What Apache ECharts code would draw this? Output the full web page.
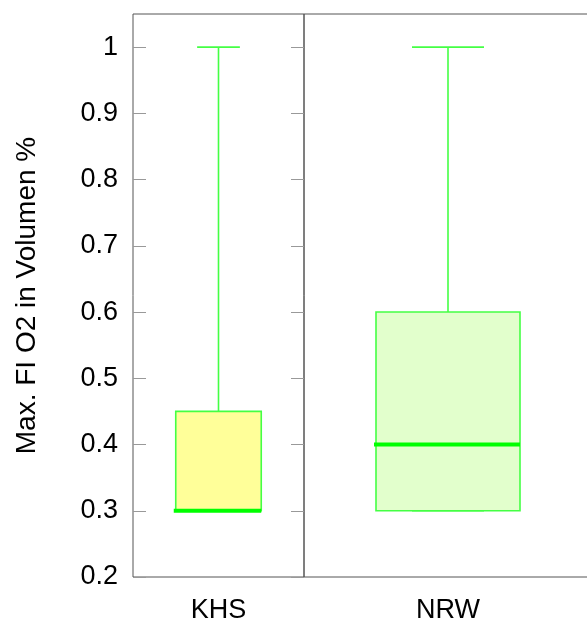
<!DOCTYPE html>
<html>
<head>
<meta charset="utf-8">
<script src="https://cdn.jsdelivr.net/npm/echarts@6/dist/echarts.min.js"></script>
<style>
html,body{margin:0;padding:0;background:#fff;}
#chart{width:587px;height:622px;}
</style>
</head>
<body>
<div id="chart"></div>
<script>
const categories = ['KHS', 'NRW'];
const whiskerLow = [0.3, 0.3];
const quartile1 = [0.3, 0.3];
const medians = [0.3, 0.4];
const quartile3 = [0.45, 0.6];
const whiskerHigh = [1.0, 1.0];
const yTickValues = [0.2, 0.3, 0.4, 0.5, 0.6, 0.7, 0.8, 0.9, 1.0];
const fills = ['#ffff99', '#e2ffcc'];

const FONT = 'Liberation Sans, Arial, sans-serif';
const strokeGreen = '#44ff44';
const medianGreen = '#00ff00';

function makeRender(idx) {
  return function (params, api) {
    const c = api.coord([api.value(0), api.value(5)]);
    const cx = c[0];
    const yMax = c[1];
    const yQ3 = api.coord([api.value(0), api.value(4)])[1];
    const yMed = api.coord([api.value(0), api.value(3)])[1];
    const yQ1 = api.coord([api.value(0), api.value(2)])[1];
    const yMin = api.coord([api.value(0), api.value(1)])[1];
    const bw = api.size([1, 0])[0] * 0.5;
    const l = cx - bw / 2, r = cx + bw / 2;
    const cap = bw / 4;
    const ls = { stroke: strokeGreen, lineWidth: 1.6 };
    return {
      type: 'group',
      children: [
        { type: 'line', shape: { x1: cx, y1: yMax, x2: cx, y2: yQ3 }, style: ls },
        { type: 'line', shape: { x1: cx, y1: yQ1, x2: cx, y2: yMin }, style: ls },
        { type: 'line', shape: { x1: cx - cap, y1: yMax, x2: cx + cap, y2: yMax }, style: ls },
        { type: 'line', shape: { x1: cx - cap, y1: yMin, x2: cx + cap, y2: yMin }, style: ls },
        { type: 'rect', shape: { x: l, y: yQ3, width: bw, height: yQ1 - yQ3 },
          style: { fill: fills[idx], stroke: strokeGreen, lineWidth: 1.6 } },
        { type: 'line', shape: { x1: l - 2, y1: yMed, x2: r, y2: yMed },
          style: { stroke: medianGreen, lineWidth: 4 } }
      ]
    };
  };
}

const yCommon = {
  type: 'value', min: 0.2, max: 1.05, interval: 0.1,
  splitLine: { show: false },
  axisLine: { show: false }
};

const option = {
  animation: false,
  backgroundColor: '#fff',
  grid: [
    { left: 133, top: 14, width: 171, height: 563, outerBoundsMode: 'none', containLabel: false,
      show: true, borderColor: '#555', borderWidth: 1, backgroundColor: 'transparent' },
    { left: 304, top: 14, width: 288, height: 563, outerBoundsMode: 'none', containLabel: false,
      show: true, borderColor: '#555', borderWidth: 1, backgroundColor: 'transparent' }
  ],
  xAxis: [
    { type: 'category', gridIndex: 0, data: [categories[0]],
      axisLine: { show: false }, axisTick: { show: false },
      axisLabel: { fontSize: 27, color: '#000', fontFamily: FONT, margin: 20 } },
    { type: 'category', gridIndex: 1, data: [categories[1]],
      axisLine: { show: false }, axisTick: { show: false },
      axisLabel: { fontSize: 27, color: '#000', fontFamily: FONT, margin: 20 } }
  ],
  yAxis: [
    Object.assign({}, yCommon, {
      gridIndex: 0, position: 'left',
      name: 'Max. FI O2 in Volumen %', nameLocation: 'middle', nameRotate: 90, nameGap: 92,
      nameTextStyle: { fontSize: 28, color: '#000', fontFamily: FONT },
      axisTick: { show: true, inside: true, length: 13, lineStyle: { color: '#999' }, customValues: yTickValues },
      axisLabel: { fontSize: 27, color: '#000', fontFamily: FONT, margin: 15, customValues: yTickValues,
        formatter: v => String(+(+v).toFixed(2)) }
    }),
    Object.assign({}, yCommon, {
      gridIndex: 0, position: 'right',
      axisTick: { show: true, inside: true, length: 13, lineStyle: { color: '#999' }, customValues: yTickValues },
      axisLabel: { show: false }
    }),
    Object.assign({}, yCommon, {
      gridIndex: 1,
      axisTick: { show: false },
      axisLabel: { show: false }
    })
  ],
  series: [0, 1].map(i => ({
    type: 'custom',
    xAxisIndex: i,
    yAxisIndex: i === 0 ? 0 : 2,
    renderItem: makeRender(i),
    encode: { x: 0, y: [1, 2, 3, 4, 5] },
    data: [[0, whiskerLow[i], quartile1[i], medians[i], quartile3[i], whiskerHigh[i]]]
  }))
};

const chart = echarts.init(document.getElementById('chart'), null, { renderer: 'canvas' });
chart.setOption(option);
</script>
</body>
</html>
